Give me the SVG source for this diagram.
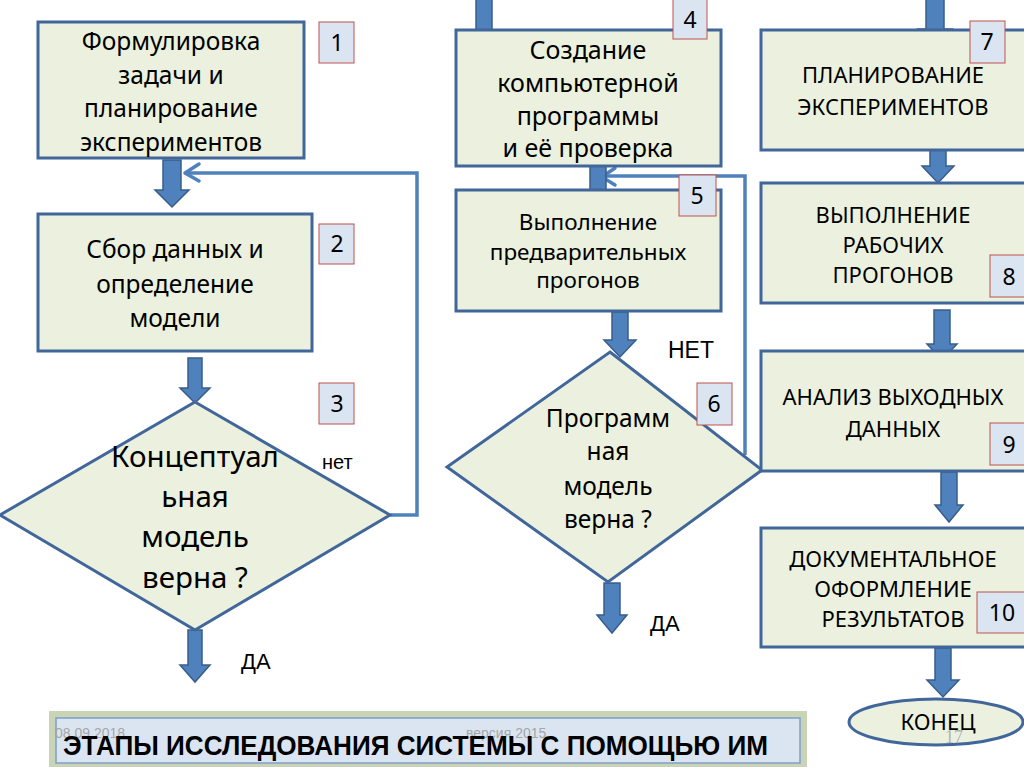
<svg xmlns="http://www.w3.org/2000/svg" width="1024" height="767" viewBox="0 0 1024 767">
<style>
.box{fill:#ebf1de;stroke:#41679a;stroke-width:3}
.badge{fill:#dbe5f1;stroke:#c0504d;stroke-width:1}
.bn{font-family:"Noto Sans","Liberation Sans",sans-serif;font-size:23px;fill:#000;text-anchor:middle}
.t{font-family:"Noto Sans","Liberation Sans",sans-serif;fill:#000;text-anchor:middle}
.fat{fill:#4f81bd;stroke:#385d8a;stroke-width:1.5}
.ln{fill:none;stroke:#4f81bd;stroke-width:3.5}
.lbl{font-family:"Liberation Sans",Arial,sans-serif;fill:#000}
</style>
<rect width="1024" height="767" fill="#fff"/>
<g id="connectors">
<path class="ln" d="M390 515 H417 V173 H187"/>
<path class="ln" d="M185 173 L199 164 M185 173 L199 181" stroke-linecap="round"/>
<path class="ln" d="M745 455 V176 H604"/>
<path class="ln" d="M602 177 L615 168 M602 177 L615 185" stroke-linecap="round"/>
<path class="fat" d="M163 160 H181 V190 H189 L172 207 L155 190 H163 Z"/>
<path class="fat" d="M188 358 H202 V388 H210 L195 403 L180 388 H188 Z"/>
<path class="fat" d="M188 630 H202 V665 H210 L195 682 L180 665 H188 Z"/>
<path class="fat" d="M476 -2 H492 V30 H500 L484 47 L467 30 H476 Z"/>
<path class="fat" d="M590 166 H606 V198 H613 L598 214 L582 198 H590 Z"/>
<path class="fat" d="M612 312 H628 V340 H636 L620 357 L604 340 H612 Z"/>
<path class="fat" d="M604 583 H620 V615 H627 L612 633 L597 615 H604 Z"/>
<path class="fat" d="M926 -2 H944 V29 H952 L935 47 L918 29 H926 Z"/>
<path class="fat" d="M930 133 H946 V166 H954 L938 183 L922 166 H930 Z"/>
<path class="fat" d="M934 310 H950 V344 H957 L942 360 L927 344 H934 Z"/>
<path class="fat" d="M941 472 H957 V505 H963 L949 522 L935 505 H941 Z"/>
<path class="fat" d="M935 648 H951 V680 H959 L943 697 L927 680 H935 Z"/>
</g>
<g id="n1">
<rect class="box" x="38" y="22" width="266" height="136"/>
<text class="t" font-size="24.5" x="171"><tspan y="50">Формулировка</tspan><tspan x="171" y="84">задачи и</tspan><tspan x="171" y="117">планирование</tspan><tspan x="171" y="151">экспериментов</tspan></text>
<rect class="badge" x="319" y="22" width="35" height="41"/><text class="bn" x="337" y="51">1</text>
</g>
<g id="n2">
<rect class="box" x="38" y="214" width="274" height="137"/>
<text class="t" font-size="24.5" x="175"><tspan y="258">Сбор данных  и</tspan><tspan x="175" y="293">определение</tspan><tspan x="175" y="327">модели</tspan></text>
<rect class="badge" x="319" y="224" width="35" height="40"/><text class="bn" x="337" y="252">2</text>
</g>
<g id="n3">
<polygon class="box" points="195,402 390,515 195,630 0,515"/>
<text class="t" font-size="29.5" x="195"><tspan y="467">Концептуал</tspan><tspan x="195" y="507">ьная</tspan><tspan x="195" y="547">модель</tspan><tspan x="195" y="588">верна ?</tspan></text>
<rect class="badge" x="319" y="383" width="35" height="41"/><text class="bn" x="337" y="412">3</text>
<text class="lbl" x="322" y="469" font-size="20">нет</text>
<text class="lbl" x="241" y="669" font-size="22">ДА</text>
</g>
<g id="n4">
<rect class="box" x="456" y="30" width="265" height="136"/>
<text class="t" font-size="25" x="588"><tspan y="59">Создание</tspan><tspan x="588" y="92">компьютерной</tspan><tspan x="588" y="125">программы</tspan><tspan x="588" y="157">и её проверка</tspan></text>
<rect class="badge" x="673" y="-2" width="34" height="41"/><text class="bn" x="690" y="28">4</text>
</g>
<g id="n5">
<rect class="box" x="456" y="190" width="265" height="121"/>
<text class="t" font-size="22.5" x="588"><tspan y="230">Выполнение</tspan><tspan x="588" y="260">предварительных</tspan><tspan x="588" y="288">прогонов</tspan></text>
<rect class="badge" x="679" y="175" width="37" height="41"/><text class="bn" x="697" y="204">5</text>
</g>
<g id="n6">
<polygon class="box" points="610,352 762,470 608,582 447,467"/>
<text class="t" font-size="24.5" x="608"><tspan y="427">Программ</tspan><tspan x="608" y="460">ная</tspan><tspan x="608" y="495">модель</tspan><tspan x="608" y="528">верна ?</tspan></text>
<rect class="badge" x="697" y="383" width="35" height="42"/><text class="bn" x="714" y="412">6</text>
<text class="lbl" x="668" y="358" font-size="23">НЕТ</text>
<text class="lbl" x="650" y="631" font-size="22">ДА</text>
</g>
<g id="n7">
<rect class="box" x="761" y="30" width="275" height="120"/>
<text class="t" font-size="22" x="893"><tspan y="83">ПЛАНИРОВАНИЕ</tspan><tspan x="893" y="115">ЭКСПЕРИМЕНТОВ</tspan></text>
<rect class="badge" x="970" y="21" width="35" height="42"/><text class="bn" x="987" y="50">7</text>
</g>
<g id="n8">
<rect class="box" x="761" y="183" width="275" height="120"/>
<text class="t" font-size="22" x="893"><tspan y="223">ВЫПОЛНЕНИЕ</tspan><tspan x="893" y="253">РАБОЧИХ</tspan><tspan x="893" y="283">ПРОГОНОВ</tspan></text>
<rect class="badge" x="990" y="255" width="40" height="42"/><text class="bn" x="1009" y="285">8</text>
</g>
<g id="n9">
<rect class="box" x="761" y="351" width="275" height="120"/>
<text class="t" font-size="22" x="893"><tspan y="405">АНАЛИЗ ВЫХОДНЫХ</tspan><tspan x="893" y="437">ДАННЫХ</tspan></text>
<rect class="badge" x="990" y="423" width="40" height="42"/><text class="bn" x="1009" y="453">9</text>
</g>
<g id="n10">
<rect class="box" x="761" y="528" width="275" height="119"/>
<text class="t" font-size="22" x="893"><tspan y="567">ДОКУМЕНТАЛЬНОЕ</tspan><tspan x="893" y="597">ОФОРМЛЕНИЕ</tspan><tspan x="893" y="627">РЕЗУЛЬТАТОВ</tspan></text>
<rect class="badge" x="977" y="592" width="50" height="41"/><text class="bn" x="1002" y="621">10</text>
</g>
<g id="end">
<ellipse class="box" cx="936" cy="722" rx="87" ry="23"/>
<text class="t" font-size="22" x="938" y="730">КОНЕЦ</text>
</g>
<g id="title">
<rect x="49" y="711" width="758" height="58" fill="#c3cfae" opacity="0.9"/>
<rect x="56" y="718" width="744" height="45" fill="#dbe5f1" stroke="#7f9fc7" stroke-width="1.5"/>
<text x="55" y="738" font-family="Liberation Sans,Arial,sans-serif" font-size="14" fill="#a6a6a6">08.09.2018</text>
<text x="466" y="738" font-family="Liberation Sans,Arial,sans-serif" font-size="14" fill="#a6a6a6">версия 2015</text>
<text x="63" y="755" font-family="Liberation Sans,Arial,sans-serif" font-weight="bold" font-size="28" textLength="705" lengthAdjust="spacingAndGlyphs" fill="#000">ЭТАПЫ ИССЛЕДОВАНИЯ СИСТЕМЫ С ПОМОЩЬЮ ИМ</text>
<text x="945" y="743" font-family="Liberation Serif,serif" font-size="18" fill="#b3b3b3">17</text>
</g>
</svg>
